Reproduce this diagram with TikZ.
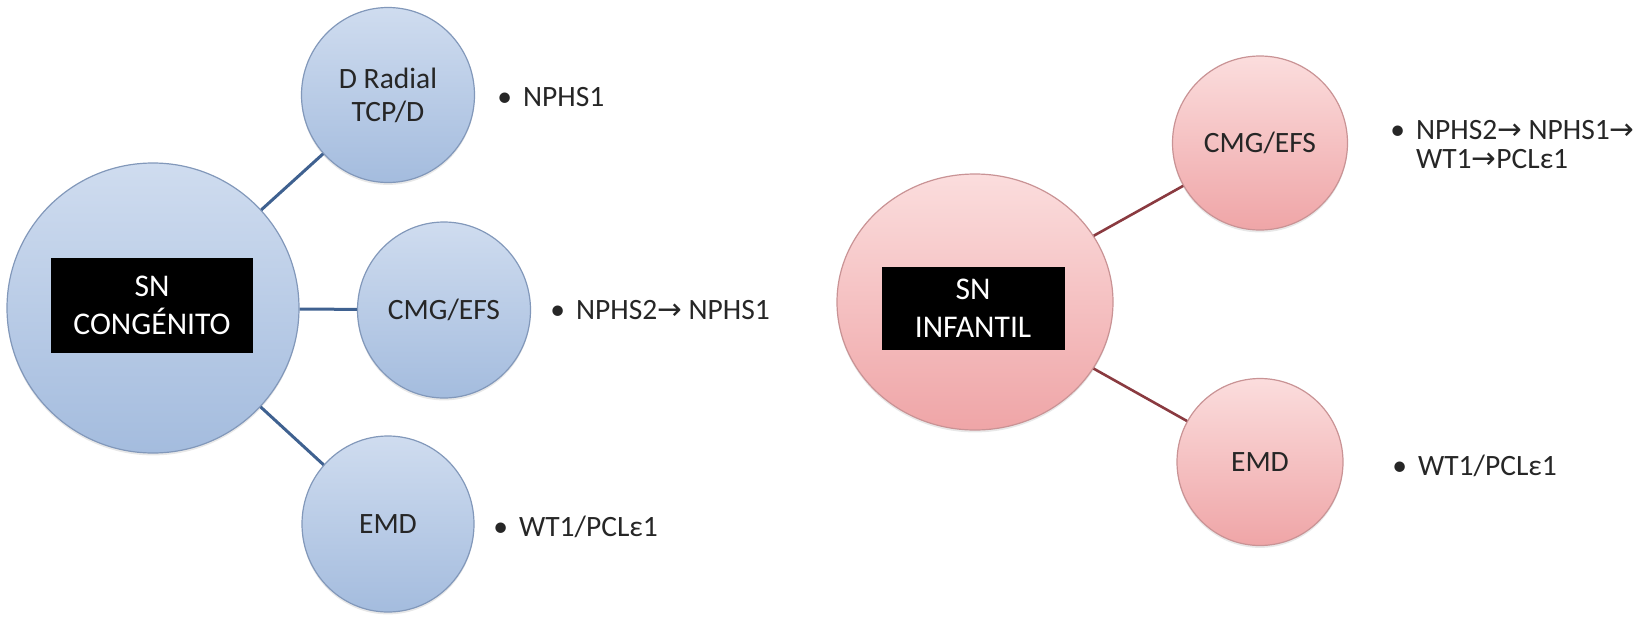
\documentclass[tikz,border=0pt]{standalone}
\usepackage{fontspec}
\setmainfont{Carlito}
\newfontfamily\arrowfont{DejaVu Sans}
\usetikzlibrary{shapes.geometric,shadows}
\definecolor{bluetop}{HTML}{CFDCEF}
\definecolor{bluebot}{HTML}{A4BCDE}
\definecolor{blueedge}{HTML}{8298BA}
\definecolor{blueline}{HTML}{3F6190}
\definecolor{pinktop}{HTML}{FBDDDD}
\definecolor{pinkbot}{HTML}{EFA5A7}
\definecolor{pinkedge}{HTML}{C99395}
\definecolor{redline}{HTML}{8A3A40}
\newcommand{\myarr}{{\arrowfont\char"2192}}
\tikzset{
  bub/.style={ellipse, draw, line width=0.6pt, inner sep=0pt, align=center,
    font=\fontsize{14.75}{16.5}\selectfont, text=black!85,
    drop shadow={opacity=0.18, shadow xshift=0pt, shadow yshift=-1.2pt}},
  bluebub/.style={bub, draw=blueedge, top color=bluetop, bottom color=bluebot},
  pinkbub/.style={bub, draw=pinkedge, top color=pinktop, bottom color=pinkbot},
  blackbox/.style={fill=black, text=white, inner sep=0pt, align=center,
    font=\fontsize{15.8}{19}\selectfont},
  item/.style={anchor=west, inner sep=0pt, font=\fontsize{14.75}{14.5}\selectfont, text=black!85},
  conB/.style={draw=blueline, line width=1.5pt},
  conR/.style={draw=redline, line width=1.3pt}
}
\begin{document}
\begin{tikzpicture}[x=0.5pt,y=-0.5pt]
\useasboundingbox (0,0) rectangle (1635,622);
% left group
\node[bluebub, minimum width=146pt, minimum height=145pt] (bigL) at (153,308) {};
\node[blackbox, minimum width=101pt, minimum height=47.5pt] (boxL) at (152,305) {SN\\CONGÉNITO};
\node[bluebub, minimum width=86.5pt, minimum height=87.5pt] (dr) at (388,95) {D Radial\\TCP/D};
\node[bluebub, minimum width=86.5pt, minimum height=88pt] (cmgL) at (444,310) {CMG/EFS};
\node[bluebub, minimum width=86pt, minimum height=88pt] (emdL) at (388,524) {EMD};
\draw[conB] (bigL) -- (dr);
\draw[conB] (bigL) -- (cmgL);
\draw[conB] (bigL) -- (emdL);
\node[item] (t1) at (497,97) {•\hspace{5.5pt}NPHS1};
\node[item] (t2) at (550,310) {•\hspace{5.5pt}NPHS2\myarr\ NPHS1};
\node[item] (t3) at (493,527) {•\hspace{5.5pt}WT1/PCLε1};
% right group
\node[pinkbub, minimum width=138pt, minimum height=128pt] (bigR) at (975,302) {};
\node[blackbox, minimum width=91.5pt, minimum height=41.5pt] (boxR) at (973,308) {SN\\INFANTIL};
\node[pinkbub, minimum width=87.5pt, minimum height=87pt] (cmgR) at (1260,143) {CMG/EFS};
\node[pinkbub, minimum width=83pt, minimum height=83.5pt] (emdR) at (1260,462) {EMD};
\draw[conR] (bigR) -- (cmgR);
\draw[conR] (bigR) -- (emdR);
\node[item] (t4) at (1390,148) {\begin{tabular}{@{}l@{\hspace{5.5pt}}l@{}}•&NPHS2\myarr\ NPHS1\myarr\\ &WT1\myarr PCLε1\end{tabular}};
\node[item] (t5) at (1392,466) {•\hspace{5.5pt}WT1/PCLε1};
\end{tikzpicture}
\end{document}
